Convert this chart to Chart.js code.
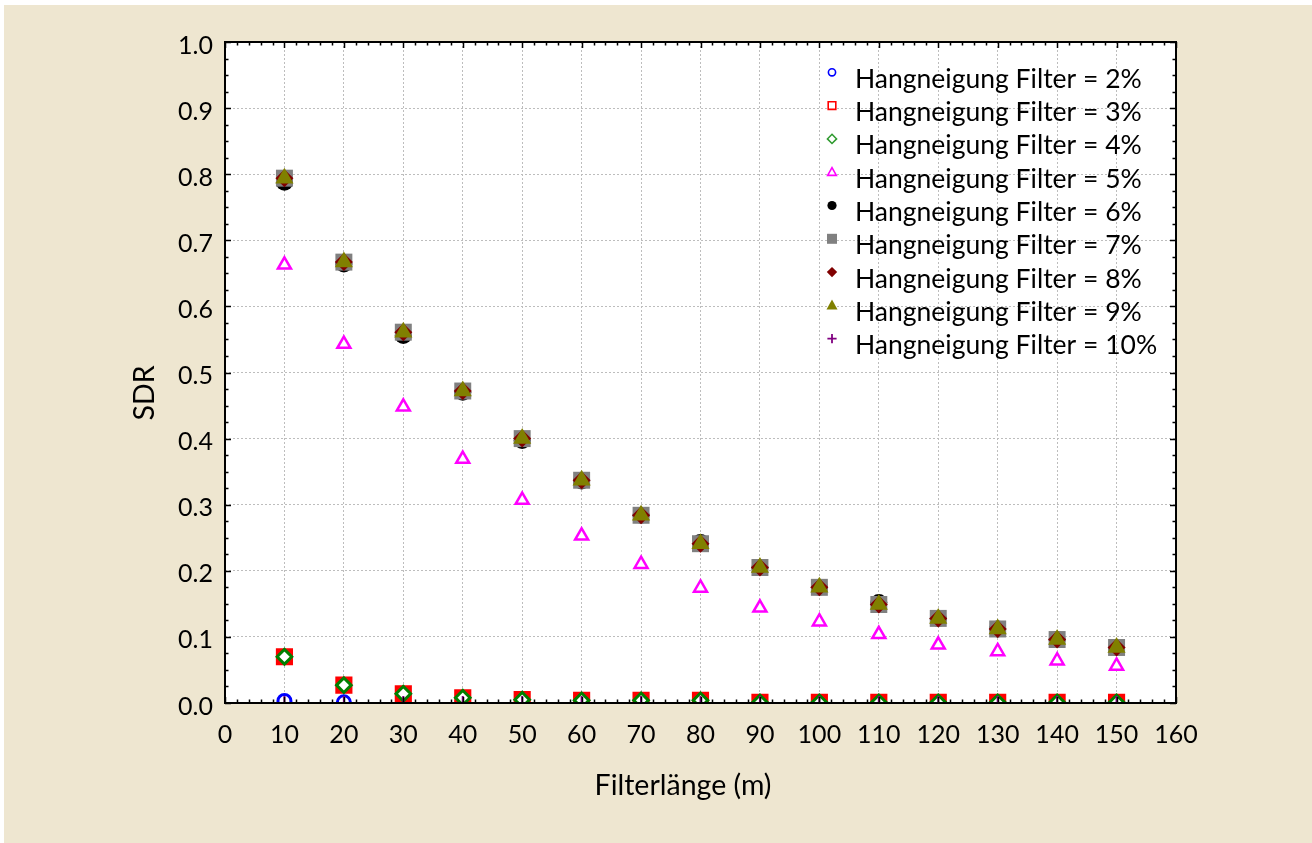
<!DOCTYPE html>
<html>
<head>
<meta charset="utf-8">
<script src="https://cdn.jsdelivr.net/npm/chart.js@4/dist/chart.umd.min.js"></script>
<style>
  html, body { margin: 0; padding: 0; background: #ffffff; }
  canvas { display: block; }
</style>
</head>
<body>
<canvas id="chart" width="1312" height="843"></canvas>
<script>
// ---------------- data ----------------
const filterLengths = [10, 20, 30, 40, 50, 60, 70, 80, 90, 100, 110, 120, 130, 140, 150];
const seriesLabels = [
  'Hangneigung Filter = 2%', 'Hangneigung Filter = 3%', 'Hangneigung Filter = 4%',
  'Hangneigung Filter = 5%', 'Hangneigung Filter = 6%', 'Hangneigung Filter = 7%',
  'Hangneigung Filter = 8%', 'Hangneigung Filter = 9%', 'Hangneigung Filter = 10%'
];
const sdr2  = [0.003, 0.001, 0, 0, 0, 0, 0, 0, 0, 0, 0, 0, 0, 0, 0];
const sdr3  = [0.070, 0.027, 0.014, 0.008, 0.005, 0.004, 0.004, 0.004, 0.001, 0.001, 0.001, 0.001, 0.001, 0.001, 0.001];
const sdr4  = [0.070, 0.027, 0.014, 0.008, 0.005, 0.004, 0.004, 0.004, 0.001, 0.001, 0.001, 0.001, 0.001, 0.001, 0.001];
const sdr5  = [0.663, 0.543, 0.448, 0.369, 0.307, 0.253, 0.210, 0.174, 0.144, 0.123, 0.104, 0.088, 0.078, 0.064, 0.056];
const sdr6  = [0.788, 0.664, 0.556, 0.470, 0.397, 0.336, 0.284, 0.243, 0.205, 0.175, 0.152, 0.128, 0.112, 0.096, 0.084];
const sdr7  = [0.794, 0.667, 0.561, 0.472, 0.400, 0.337, 0.284, 0.241, 0.205, 0.175, 0.149, 0.128, 0.112, 0.096, 0.084];
const sdr8  = [0.794, 0.667, 0.561, 0.472, 0.400, 0.337, 0.284, 0.241, 0.205, 0.175, 0.149, 0.128, 0.112, 0.096, 0.084];
const sdr9  = [0.794, 0.667, 0.561, 0.472, 0.400, 0.337, 0.284, 0.241, 0.205, 0.175, 0.149, 0.128, 0.112, 0.096, 0.084];
const sdr10 = [0, 0, 0, 0, 0, 0, 0, 0, 0, 0, 0, 0, 0, 0, 0];
const allSeries = [sdr2, sdr3, sdr4, sdr5, sdr6, sdr7, sdr8, sdr9, sdr10];

const xAxisTitle = 'Filterlänge (m)';
const yAxisTitle = 'SDR';
const X_MIN = 0, X_MAX = 160, X_STEP = 10, X_MINOR = 2;
const Y_MIN = 0, Y_MAX = 1, Y_STEP = 0.1, Y_MINOR = 0.025;

// ---------------- styles ----------------
const FONT = 'Lato, "Open Sans", sans-serif';
const markerStyles = [
  { style: 'circle',   r: 6.5,  bw: 3,   border: '#0000FF', bg: '#FFFFFF' },
  { style: 'rect',     r: 10,   bw: 3,   border: '#FF0000', bg: '#FF0000' },
  { style: 'rectRot',  r: 7.3,  bw: 3,   border: '#008000', bg: '#FFFFFF' },
  { style: 'triangle', r: 7.5,  bw: 2.5, border: '#FF00FF', bg: '#FFFFFF' },
  { style: 'circle',   r: 8.5,  bw: 0,   border: '#000000', bg: '#000000' },
  { style: 'rect',     r: 12,   bw: 0,   border: '#808080', bg: '#808080' },
  { style: 'rectRot',  r: 9,    bw: 0,   border: '#800000', bg: '#800000' },
  { style: 'triangle', r: 10.5, bw: 0,   border: '#808000', bg: '#808000' },
  { style: 'cross',    r: 7,    bw: 2,   border: '#800080', bg: '#800080' }
];
const legendStyles = [
  { shape: 'circle',   size: 3.6, stroke: '#0000FF', fill: '#FFFFFF', lw: 1.6 },
  { shape: 'square',   size: 3.8, stroke: '#FF0000', fill: '#FFFFFF', lw: 1.6 },
  { shape: 'diamond',  size: 4.6, stroke: '#2E9A2E', fill: '#FFFFFF', lw: 1.5 },
  { shape: 'triangle', size: 4.6, stroke: '#FF00FF', fill: '#FFFFFF', lw: 1.6 },
  { shape: 'circle',   size: 4.6, stroke: '#000000', fill: '#000000', lw: 0 },
  { shape: 'square',   size: 5.0, stroke: '#808080', fill: '#808080', lw: 0 },
  { shape: 'diamond',  size: 5.2, stroke: '#800000', fill: '#800000', lw: 0 },
  { shape: 'triangle', size: 5.8, stroke: '#808000', fill: '#808000', lw: 0 },
  { shape: 'plus',     size: 4.6, stroke: '#800080', fill: '#800080', lw: 1.8 }
];

function drawLegendMarker(ctx, s, x, y) {
  ctx.save();
  ctx.fillStyle = s.fill; ctx.strokeStyle = s.stroke; ctx.lineWidth = s.lw || 1;
  ctx.beginPath();
  const r = s.size;
  if (s.shape === 'circle') { ctx.arc(x, y, r, 0, Math.PI * 2); }
  else if (s.shape === 'square') { ctx.rect(x - r, y - r, 2 * r, 2 * r); }
  else if (s.shape === 'diamond') { ctx.moveTo(x, y - r); ctx.lineTo(x + r, y); ctx.lineTo(x, y + r); ctx.lineTo(x - r, y); ctx.closePath(); }
  else if (s.shape === 'triangle') { ctx.moveTo(x, y - r); ctx.lineTo(x + r * 0.95, y + r * 0.7); ctx.lineTo(x - r * 0.95, y + r * 0.7); ctx.closePath(); }
  if (s.shape === 'plus') {
    ctx.moveTo(x - r, y); ctx.lineTo(x + r, y); ctx.moveTo(x, y - r); ctx.lineTo(x, y + r);
    ctx.stroke();
  } else {
    ctx.fill();
    if (s.lw > 0) ctx.stroke();
  }
  ctx.restore();
}

const backgroundPlugin = {
  id: 'bg',
  beforeDraw(chart) {
    const { ctx, chartArea: a } = chart;
    ctx.save();
    ctx.fillStyle = '#FFFFFF';
    ctx.fillRect(0, 0, chart.width, chart.height);
    ctx.fillStyle = '#EEE6D0';
    ctx.fillRect(4, 5, chart.width - 4, chart.height - 5);
    ctx.fillStyle = '#FFFFFF';
    ctx.fillRect(a.left, a.top, a.right - a.left, a.bottom - a.top);
    ctx.restore();
  }
};

const framePlugin = {
  id: 'frame',
  afterDraw(chart) {
    const { ctx, chartArea: a } = chart;
    const xs = chart.scales.x, ys = chart.scales.y;
    ctx.save();
    ctx.strokeStyle = '#000000';
    ctx.lineWidth = 1.5;
    ctx.beginPath();
    const nx = Math.round((X_MAX - X_MIN) / X_MINOR);
    for (let i = 0; i <= nx; i++) {
      const v = X_MIN + i * X_MINOR;
      const major = Math.abs(v / X_STEP - Math.round(v / X_STEP)) < 1e-6;
      const len = major ? 6 : 3.5;
      const px = Math.round(xs.getPixelForValue(v)) + 0.5;
      ctx.moveTo(px, a.bottom); ctx.lineTo(px, a.bottom - len);
      ctx.moveTo(px, a.top); ctx.lineTo(px, a.top + len);
    }
    const ny = Math.round((Y_MAX - Y_MIN) / Y_MINOR);
    for (let i = 0; i <= ny; i++) {
      const v = Y_MIN + i * Y_MINOR;
      const major = Math.abs(v / Y_STEP - Math.round(v / Y_STEP)) < 1e-6;
      const len = major ? 6 : 3.5;
      const py = Math.round(ys.getPixelForValue(v)) + 0.5;
      ctx.moveTo(a.left, py); ctx.lineTo(a.left + len, py);
      ctx.moveTo(a.right, py); ctx.lineTo(a.right - len, py);
    }
    ctx.stroke();
    ctx.lineWidth = 2;
    ctx.strokeRect(a.left, a.top, a.right - a.left, a.bottom - a.top);

    // axis titles
    ctx.fillStyle = '#000000';
    ctx.font = '28.5px ' + FONT;
    ctx.textAlign = 'center';
    ctx.textBaseline = 'middle';
    ctx.fillText(xAxisTitle, 683, 786);
    ctx.save();
    ctx.translate(145, 393);
    ctx.rotate(-Math.PI / 2);
    ctx.fillText(yAxisTitle, 0, 0);
    ctx.restore();

    // legend
    ctx.font = '26.5px ' + FONT;
    ctx.textAlign = 'left';
    ctx.textBaseline = 'middle';
    seriesLabels.forEach((lab, i) => {
      const my = 72.3 + i * 33.3;
      drawLegendMarker(ctx, legendStyles[i], 832, my);
      ctx.fillStyle = '#000000';
      ctx.fillText(lab, 855, my + 7);
    });
    ctx.restore();
  }
};

const datasets = allSeries.map((arr, i) => {
  const s = markerStyles[i];
  return {
    label: seriesLabels[i],
    data: filterLengths.map((x, j) => ({ x: x, y: arr[j] })),
    pointStyle: s.style,
    pointRadius: s.r,
    pointHoverRadius: s.r,
    pointBorderWidth: s.bw,
    pointBorderColor: s.border,
    pointBackgroundColor: s.bg,
    borderColor: s.border,
    backgroundColor: s.bg,
    showLine: false,
    clip: 0,
    order: -i
  };
});

new Chart(document.getElementById('chart'), {
  type: 'scatter',
  data: { datasets: datasets },
  options: {
    responsive: false,
    devicePixelRatio: 1,
    animation: false,
    events: [],
    layout: { padding: { top: 42, right: 136, left: 0, bottom: 0 } },
    plugins: { legend: { display: false }, tooltip: { enabled: false } },
    scales: {
      x: {
        type: 'linear', min: X_MIN, max: X_MAX,
        afterFit(scale) { scale.height = 140; },
        ticks: { stepSize: X_STEP, autoSkip: false, maxRotation: 0, padding: 16.5,
                 color: '#000000', font: { family: FONT, size: 25 } },
        grid: { color: '#BDBDBD', lineWidth: 1, drawTicks: false },
        border: { display: false, dash: [2, 2] }
      },
      y: {
        type: 'linear', min: Y_MIN, max: Y_MAX,
        afterFit(scale) { scale.width = 225; },
        ticks: { stepSize: Y_STEP, padding: 12, labelOffset: 3.5, color: '#000000',
                 font: { family: FONT, size: 25 },
                 callback: (v) => Number(v).toFixed(1) },
        grid: { color: '#BDBDBD', lineWidth: 1, drawTicks: false },
        border: { display: false, dash: [2, 2] }
      }
    }
  },
  plugins: [backgroundPlugin, framePlugin]
});
</script>
</body>
</html>
